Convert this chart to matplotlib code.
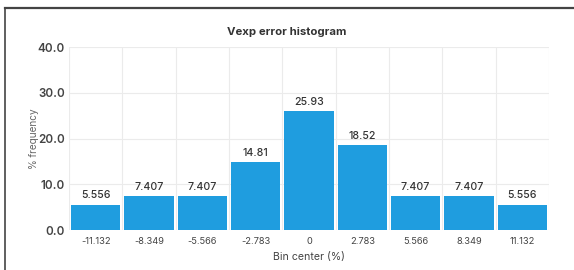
import matplotlib.pyplot as plt
import numpy as np
from matplotlib.lines import Line2D

plt.rcParams["font.family"] = ["Inter", "DejaVu Sans"]

# data
bin_centers = ["-11.132", "-8.349", "-5.566", "-2.783", "0", "2.783", "5.566", "8.349", "11.132"]
pct_freq = [5.556, 7.407, 7.407, 14.81, 25.93, 18.52, 7.407, 7.407, 5.556]
bar_labels = ["5.556", "7.407", "7.407", "14.81", "25.93", "18.52", "7.407", "7.407", "5.556"]
y_ticks = [0, 10, 20, 30, 40]

BAR = "#1f9ddf"
GRID = "#ebebeb"

fig = plt.figure(figsize=(5.74, 2.70), dpi=100)
ax = fig.add_axes([0.1202, 0.1481, 0.8362, 0.6778])

x = np.arange(len(bin_centers))
ax.bar(x, pct_freq, width=0.925, color=BAR, zorder=3)
for xi, v, lab in zip(x, pct_freq, bar_labels):
    ax.annotate(lab, (xi, v), xytext=(0, 3), textcoords="offset points",
                ha="center", va="bottom", fontsize=7.6, color="#333333", fontweight="medium")

ax.set_xlim(-0.5, len(bin_centers) - 0.5)
ax.set_ylim(0, 40)
ax.set_xticks(x)
ax.set_xticklabels(bin_centers, fontsize=6.7, color="#444444")
ax.set_xticks(np.arange(len(bin_centers) + 1) - 0.5, minor=True)
ax.set_yticks(y_ticks)
ax.set_yticklabels([f"{t:.1f}" for t in y_ticks], fontsize=8.4, color="#444444", fontweight="semibold")
ax.tick_params(axis="both", which="both", length=0)
ax.tick_params(axis="x", pad=5)
ax.tick_params(axis="y", pad=3)
ax.grid(True, axis="y", color=GRID, lw=0.8, zorder=0)
ax.grid(True, axis="x", which="minor", color=GRID, lw=0.8, zorder=0)
for sp in ax.spines.values():
    sp.set_visible(False)

ax.set_xlabel("Bin center (%)", fontsize=7.6, color="#444444", labelpad=4)
ax.set_ylabel("% frequency", fontsize=7.2, color="#666666", labelpad=-1)
fig.text(0.5, 0.88, "Vexp error histogram", ha="center", va="center",
         fontsize=8.2, fontweight="bold", color="#333333")

# frame lines of the screenshot
fig.add_artist(Line2D([0.009, 1.0], [0.969, 0.969], color="#444444", lw=1.6))
fig.add_artist(Line2D([0.0095, 0.0095], [0.0, 0.969], color="#444444", lw=1.2))

fig.savefig("out.png", dpi=100)
